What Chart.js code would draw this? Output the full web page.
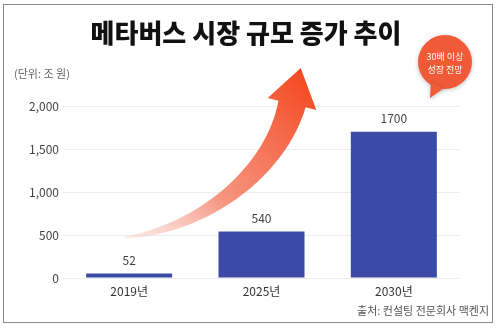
<!DOCTYPE html>
<html>
<head>
<meta charset="utf-8">
<script src="https://cdn.jsdelivr.net/npm/chart.js@4"></script>
<style>
  html, body { margin: 0; padding: 0; background: #fff; }
  #wrap { width: 500px; height: 330px; position: relative; }
</style>
</head>
<body>
<div id="wrap"><canvas id="metaverse" width="500" height="330"></canvas></div>
<script>
// data
var years = ["2019년", "2025년", "2030년"];
var marketSize = [52, 540, 1700];
var yTicks = [0, 500, 1000, 1500, 2000];

var FONT = "'Noto Sans CJK KR', 'Noto Sans', sans-serif";

// title, unit, arrow, bubble, source, frame
var decor = {
  id: 'decor',
  beforeDatasetsDraw: function (chart) {
    var c = chart.ctx, xs = chart.scales.x, ys = chart.scales.y;
    // curved arrow
    var p0 = [xs.getPixelForValue(0) - 4, ys.getPixelForValue(470)];
    var p1 = [205, 228], p2 = [276, 170], p3 = [292, 104];
    function bez(t, i) {
      var u = 1 - t;
      return u*u*u*p0[i] + 3*u*u*t*p1[i] + 3*u*t*t*p2[i] + t*t*t*p3[i];
    }
    function tan(t, i) {
      var u = 1 - t;
      return 3*u*u*(p1[i]-p0[i]) + 6*u*t*(p2[i]-p1[i]) + 3*t*t*(p3[i]-p2[i]);
    }
    var left = [], right = [], n = 40;
    for (var k = 0; k <= n; k++) {
      var t = k / n;
      var x = bez(t, 0), y = bez(t, 1);
      var dx = tan(t, 0), dy = tan(t, 1), len = Math.hypot(dx, dy);
      var nx = -dy / len, ny = dx / len;
      var w = 1 + 13 * Math.pow(t, 0.9);
      left.push([x + nx*w, y + ny*w]);
      right.push([x - nx*w, y - ny*w]);
    }
    var ex = tan(1, 0), ey = tan(1, 1), el = Math.hypot(ex, ey);
    ex /= el; ey /= el;
    var hx = -ey, hy = ex;
    c.save();
    var g = c.createLinearGradient(p0[0], p0[1], p3[0], p3[1] - 36);
    g.addColorStop(0, 'rgba(246,190,180,0.3)');
    g.addColorStop(0.4, 'rgba(245,130,105,0.85)');
    g.addColorStop(1, '#f44b25');
    c.fillStyle = g;
    c.beginPath();
    c.moveTo(left[0][0], left[0][1]);
    left.forEach(function (p) { c.lineTo(p[0], p[1]); });
    c.lineTo(p3[0] + hx*25, p3[1] + hy*25);
    c.lineTo(p3[0] + ex*37, p3[1] + ey*37);
    c.lineTo(p3[0] - hx*25, p3[1] - hy*25);
    for (var j = right.length - 1; j >= 0; j--) c.lineTo(right[j][0], right[j][1]);
    c.closePath();
    c.fill();
    c.restore();
  },
  afterDraw: function (chart) {
    var c = chart.ctx, meta = chart.getDatasetMeta(0);
    c.save();
    // frame
    c.strokeStyle = '#8a8a8a';
    c.lineWidth = 1;
    c.strokeRect(3.5, 4.5, 489, 318);
    // title
    c.fillStyle = '#111';
    c.textAlign = 'center';
    c.textBaseline = 'middle';
    c.font = '900 26px ' + FONT;
    c.fillText('메타버스 시장 규모 증가 추이', 246, 33);
    // unit
    c.textAlign = 'left';
    c.font = '11px ' + FONT;
    c.fillStyle = '#666';
    c.fillText('(단위: 조 원)', 14, 74);
    // value labels
    c.textAlign = 'center';
    c.font = '12px ' + FONT;
    c.fillStyle = '#444';
    meta.data.forEach(function (bar, i) {
      c.fillText(String(marketSize[i]), bar.x, bar.y - 13);
    });
    // source
    c.textAlign = 'right';
    c.font = '11px ' + FONT;
    c.fillStyle = '#555';
    c.fillText('출처: 컨설팅 전문회사 맥켄지', 489, 311);
    // bubble
    c.shadowColor = 'rgba(0,0,0,0.25)';
    c.shadowBlur = 4;
    c.shadowOffsetY = 1;
    c.fillStyle = '#f15a37';
    c.beginPath();
    c.arc(445, 62, 27, 0, Math.PI * 2);
    c.fill();
    c.beginPath();
    c.moveTo(431, 82);
    c.lineTo(444, 88);
    c.lineTo(430, 98);
    c.closePath();
    c.fill();
    c.shadowColor = 'transparent';
    c.fillStyle = '#fff';
    c.textAlign = 'center';
    c.font = '9px ' + FONT;
    c.fillText('30배 이상', 445, 57);
    c.fillText('성장 전망', 445, 70);
    c.restore();
  }
};

var ctx = document.getElementById('metaverse').getContext('2d');
var chart = new Chart(ctx, {
  type: 'bar',
  data: {
    labels: years,
    datasets: [{
      data: marketSize,
      backgroundColor: '#3a4aa5',
      barPercentage: 0.65,
      categoryPercentage: 1
    }]
  },
  options: {
    responsive: false,
    animation: false,
    layout: { padding: { left: 13, right: 40, top: 106, bottom: 28 } },
    plugins: {
      legend: { display: false },
      tooltip: { enabled: false }
    },
    scales: {
      x: {
        afterFit: function (scale) { scale.height = 24; },
        grid: { display: false },
        border: { display: false },
        ticks: { color: '#333', font: { family: FONT, size: 12 }, padding: -2, maxRotation: 0, autoSkip: false }
      },
      y: {
        min: 0,
        max: 2000,
        afterFit: function (scale) { scale.width = 50; },
        afterBuildTicks: function (scale) {
          scale.ticks = yTicks.map(function (v) { return { value: v }; });
        },
        grid: { color: '#ececec', drawTicks: false },
        border: { display: false },
        ticks: {
          color: '#444',
          padding: 4,
          font: { family: FONT, size: 12 },
          callback: function (v) { return v.toLocaleString('en-US'); }
        }
      }
    }
  },
  plugins: [decor]
});
</script>
</body>
</html>
